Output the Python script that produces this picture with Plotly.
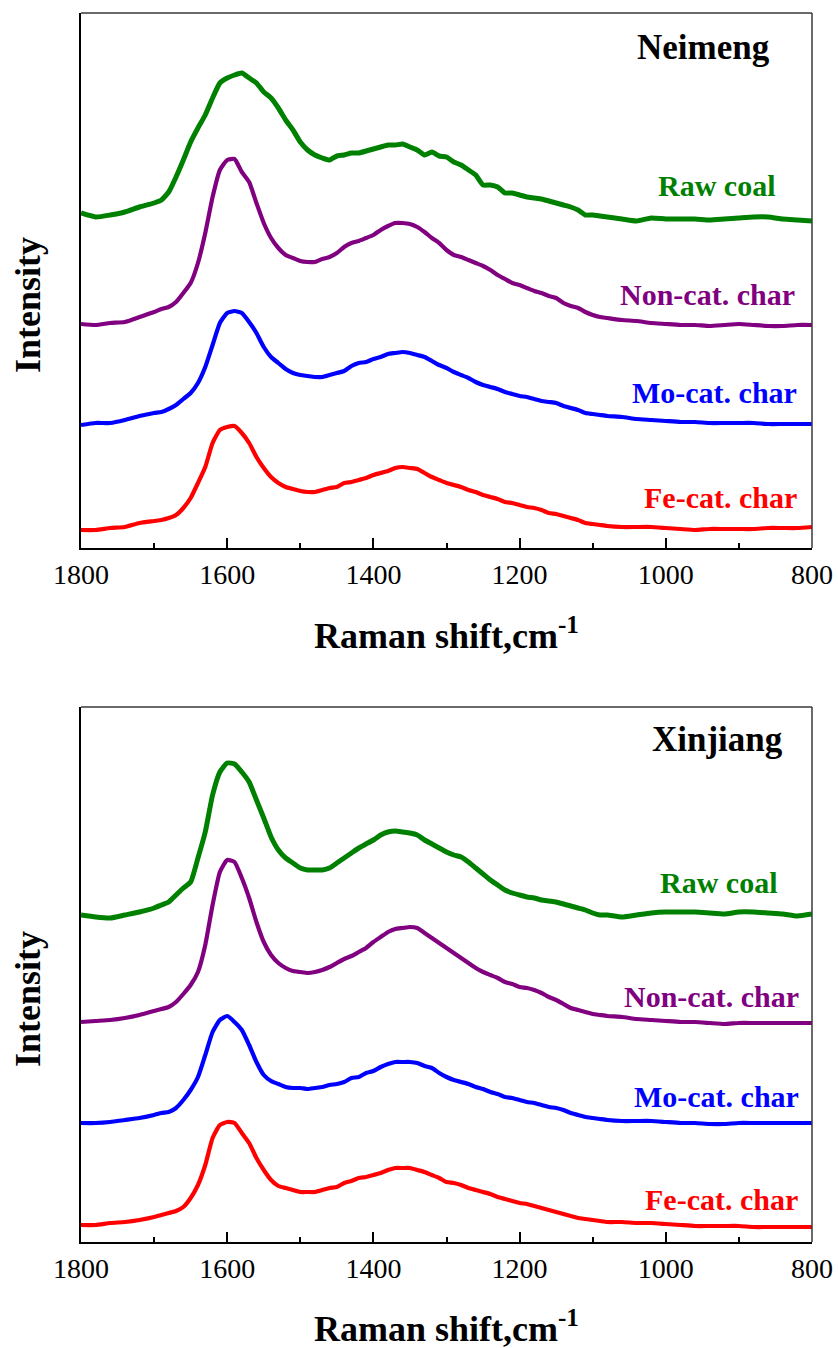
import plotly.graph_objects as go

# ---------------- data (arbitrary intensity units) -------------
shift_cm = [1800, 1780, 1760, 1740, 1720,
            1700, 1690, 1680, 1670, 1660, 1650, 1640, 1630, 1620, 1610,
            1600, 1590, 1580, 1570, 1560, 1550, 1540, 1530, 1520, 1510,
            1500, 1490, 1480, 1470, 1460, 1450, 1440, 1430, 1420, 1410,
            1400, 1390, 1380, 1370, 1360, 1350, 1340, 1330, 1320, 1310,
            1300, 1290, 1280, 1270, 1260, 1250, 1240, 1230, 1220, 1210,
            1200, 1190, 1180, 1170, 1160, 1150, 1140, 1130, 1120, 1110,
            1100, 1090, 1080,
            1060, 1040, 1020, 1000, 980, 960, 940, 920, 900, 880, 860, 840, 820, 800]

# Neimeng
nm_raw = [335, 331, 333, 336, 341,
          345, 348, 356, 371, 388, 406, 420, 433, 450, 465,
          470, 473, 475, 470, 465, 456, 450, 440, 428, 418,
          406, 398, 393, 390, 388, 392, 393, 395, 395, 397,
          399, 401, 403, 403, 404, 401, 398, 393, 396, 392,
          391, 386, 383, 378, 373, 363, 363, 361, 355, 355,
          353, 351, 350, 349, 347, 345, 343, 341, 338, 333,
          333, 332, 331,
          329, 327, 330, 329, 329, 329, 328, 329, 330, 331, 331, 329, 328, 327]
nm_noncat = [224, 223, 225, 226, 231,
             236, 239, 241, 246, 255, 265, 285, 315, 351, 378,
             388, 389, 376, 366, 345, 325, 310, 300, 293, 290,
             287, 286, 286, 289, 291, 295, 301, 305, 307, 310,
             313, 318, 322, 325, 325, 324, 321, 316, 310, 305,
             298, 293, 291, 288, 285, 282, 278, 273, 269, 265,
             263, 260, 257, 255, 252, 250, 245, 242, 240, 236,
             233, 231, 230,
             228, 227, 225, 224, 223, 223, 222, 223, 224, 223, 222, 222, 223, 223]
nm_mo = [123, 125, 125, 128, 132,
         135, 136, 139, 143, 149, 155, 165, 181, 203, 225,
         235, 237, 235, 226, 215, 201, 191, 185, 179, 175,
         173, 172, 171, 171, 173, 175, 177, 182, 185, 186,
         189, 191, 194, 195, 196, 195, 193, 191, 187, 183,
         180, 176, 173, 170, 166, 163, 161, 159, 156, 154,
         152, 151, 149, 147, 146, 145, 142, 140, 138, 135,
         134, 133, 132,
         131, 129, 128, 127, 126, 126, 125, 125, 125, 125, 124, 124, 124, 124]
nm_fe = [18, 18, 20, 21, 25,
         27, 28, 30, 33, 40, 50, 65, 81, 105, 118,
         121, 122, 115, 105, 91, 80, 71, 65, 61, 59,
         57, 56, 56, 58, 60, 61, 65, 66, 68, 70,
         73, 75, 77, 80, 81, 80, 79, 75, 71, 68,
         65, 63, 61, 58, 56, 53, 51, 49, 46, 45,
         43, 41, 40, 38, 35, 34, 32, 30, 28, 25,
         24, 23, 22,
         21, 21, 21, 20, 19, 18, 19, 19, 19, 19, 20, 20, 20, 21]

# Xinjiang
xj_raw = [327, 325, 324, 327, 330,
          334, 337, 340, 347, 354, 360, 384, 410, 447, 470,
          479, 478, 470, 460, 442, 424, 405, 392, 384, 379,
          374, 372, 372, 372, 374, 379, 384, 389, 394, 398,
          402, 407, 410, 411, 410, 409, 407, 402, 398, 394,
          390, 387, 385, 380, 374, 368, 362, 357, 352, 349,
          347, 345, 344, 342, 341, 340, 338, 336, 334, 332,
          329, 327, 327,
          325, 327, 329, 330, 330, 330, 329, 328, 330, 330, 329, 328, 326, 328]
xj_noncat = [220, 221, 222, 224, 227,
             231, 233, 235, 240, 248, 257, 270, 297, 337, 370,
             382, 380, 364, 344, 320, 300, 287, 279, 274, 271,
             270, 269, 270, 272, 275, 279, 283, 286, 290, 294,
             300, 305, 310, 313, 314, 315, 314, 309, 304, 299,
             294, 289, 284, 279, 274, 270, 267, 264, 260, 258,
             255, 254, 252, 249, 245, 242, 238, 234, 232, 230,
             228, 227, 226,
             225, 223, 222, 221, 220, 220, 219, 218, 219, 219, 219, 219, 219, 219]
xj_mo = [119, 119, 120, 122, 124,
         127, 129, 130, 134, 142, 152, 165, 187, 210, 222,
         226, 220, 212, 197, 180, 167, 161, 158, 155, 154,
         154, 153, 154, 155, 157, 158, 160, 164, 165, 169,
         171, 175, 178, 180, 180, 180, 179, 176, 174, 169,
         165, 162, 160, 158, 155, 153, 150, 148, 145, 144,
         142, 140, 139, 137, 135, 134, 132, 129, 127, 125,
         124, 123, 122,
         121, 121, 121, 120, 119, 119, 118, 118, 119, 119, 119, 119, 119, 119]
xj_fe = [17, 17, 19, 20, 22,
         25, 27, 29, 31, 35, 44, 57, 77, 104, 117,
         120, 119, 109, 99, 84, 72, 62, 56, 54, 52,
         50, 50, 50, 52, 54, 55, 59, 61, 64, 65,
         67, 69, 72, 74, 74, 74, 72, 70, 67, 64,
         60, 59, 57, 54, 52, 50, 48, 45, 43, 41,
         39, 38, 36, 34, 32, 30, 28, 26, 24, 23,
         22, 21, 20,
         20, 19, 19, 18, 17, 16, 16, 16, 16, 15, 15, 15, 15, 15]

series_names = ["Raw coal", "Non-cat. char", "Mo-cat. char", "Fe-cat. char"]
series_colors = ["#008000", "#800080", "#0000FF", "#FF0000"]
series_widths = [5, 4.2, 4.2, 4.2]
panel_names = ["Neimeng", "Xinjiang"]
x_ticks = [1800, 1600, 1400, 1200, 1000, 800]
x_minor_ticks = [1700, 1500, 1300, 1100, 900]

for arr in (nm_raw, nm_noncat, nm_mo, nm_fe, xj_raw, xj_noncat, xj_mo, xj_fe):
    assert len(arr) == len(shift_cm), len(arr)

# ---------------- layout geometry (pixels) ----------------
W, H = 838, 1348
L, R, T, B = 81, 812, 13, 1242          # outer plot-area box
PW, PH = R - L, B - T
TOP_BOTTOM = 548                        # bottom of upper panel
BOT_TOP = 707                           # top of lower panel

def px_x(px):
    return (px - L) / PW

def px_y(py):
    return (B - py) / PH

FONT = "Liberation Serif"

fig = go.Figure()
panels = [(("x", "y"), [nm_raw, nm_noncat, nm_mo, nm_fe]),
          (("x2", "y2"), [xj_raw, xj_noncat, xj_mo, xj_fe])]
for (xa, ya), series in panels:
    for name, col, lw, vals in zip(series_names, series_colors, series_widths, series):
        fig.add_trace(go.Scatter(x=shift_cm, y=vals, mode="lines", name=name,
                                 xaxis=xa, yaxis=ya,
                                 line=dict(color=col, width=lw, shape="spline", smoothing=0.5),
                                 showlegend=False, hoverinfo="skip"))

xaxis_common = dict(range=[1800, 800], showline=True, linecolor="black", linewidth=2,
                    ticks="inside", ticklen=10, tickwidth=2, tickcolor="black",
                    tickvals=x_ticks, showgrid=False, zeroline=False, automargin=False,
                    tickfont=dict(family=FONT, size=28, color="black"),
                    minor=dict(ticks="inside", ticklen=5, tickwidth=2, tickcolor="black",
                               tickvals=x_minor_ticks, showgrid=False),
                    fixedrange=True)
yaxis_common = dict(range=[0, 535], showline=True, linecolor="black", linewidth=2,
                    ticks="", showticklabels=False, showgrid=False, zeroline=False,
                    automargin=False, fixedrange=True)

fig.update_layout(
    template="none",
    width=W, height=H, autosize=False,
    margin=dict(l=L, r=W - R, t=T, b=H - B, pad=0),
    paper_bgcolor="white", plot_bgcolor="white",
    showlegend=False,
    xaxis=dict(domain=[0, 1], anchor="y", **xaxis_common),
    yaxis=dict(domain=[px_y(TOP_BOTTOM), 1], anchor="x", **yaxis_common),
    xaxis2=dict(domain=[0, 1], anchor="y2", **xaxis_common),
    yaxis2=dict(domain=[0, px_y(BOT_TOP)], anchor="x2", **yaxis_common),
)

# thin top / right frame lines
shapes = []
for xr, yr in (("x domain", "y domain"), ("x2 domain", "y2 domain")):
    shapes.append(dict(type="line", xref=xr, yref=yr, x0=0, x1=1, y0=1, y1=1,
                       line=dict(color="#3a3a3a", width=1.5)))
    shapes.append(dict(type="line", xref=xr, yref=yr, x0=1, x1=1, y0=0, y1=1,
                       line=dict(color="#3a3a3a", width=1.5)))
fig.update_layout(shapes=shapes)

ann = []
# axis titles
for cy in (634, 1326):
    ann.append(dict(text="<b>Raman shift,cm<sup>-1</sup></b>", xref="paper", yref="paper",
                    x=px_x((L + R) / 2), y=px_y(cy),
                    xanchor="center", yanchor="middle", showarrow=False,
                    font=dict(family=FONT, size=36, color="black")))
for cy in (305, 999):
    ann.append(dict(text="<b>Intensity</b>", xref="paper", yref="paper",
                    x=px_x(28), y=px_y(cy), textangle=-90,
                    xanchor="center", yanchor="middle", showarrow=False,
                    font=dict(family=FONT, size=36, color="black")))
# panel names
for name, rx, cy in zip(panel_names, (772, 785), (47, 739.5)):
    ann.append(dict(text=f"<b>{name}</b>", xref="paper", yref="paper",
                    x=px_x(rx), y=px_y(cy), xanchor="right", yanchor="middle",
                    showarrow=False, font=dict(family=FONT, size=35, color="black")))
# series labels
label_pos = [
    [(777, 186), (797, 294), (799, 392), (799, 497)],
    [(779, 882), (801, 996), (801, 1096), (800, 1199)],
]
for panel in label_pos:
    for name, col, (rx, cy) in zip(series_names, series_colors, panel):
        ann.append(dict(text=f"<b>{name}</b>", xref="paper", yref="paper",
                        x=px_x(rx), y=px_y(cy), xanchor="right", yanchor="middle",
                        showarrow=False, font=dict(family=FONT, size=30, color=col)))
fig.update_layout(annotations=ann)

fig.write_html("out.html")
